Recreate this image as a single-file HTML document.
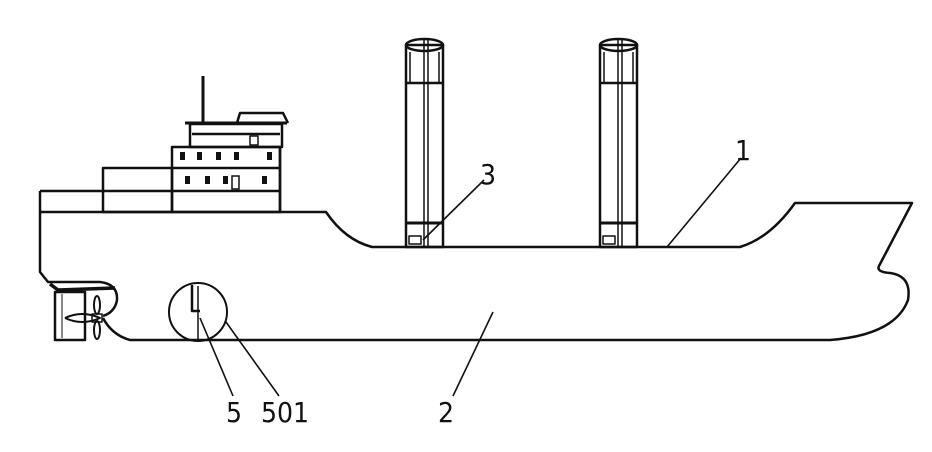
<!DOCTYPE html>
<html><head><meta charset="utf-8"><style>
html,body{margin:0;padding:0;background:#fff;}
svg{display:block;}
text{font-family:"DejaVu Sans Condensed","DejaVu Sans","Liberation Sans",sans-serif;font-size:28px;fill:#111;}
</style></head><body>
<svg width="932" height="452" viewBox="0 0 932 452" xmlns="http://www.w3.org/2000/svg">
<g fill="none" stroke="#111" stroke-width="2.5" stroke-linejoin="round">
<!-- hull -->
<path d="M40 212 L326 212 Q345 240 372 247 L740 247 Q770 238 795 203 L912 203 L879 266 Q876 272 890 273 Q912 276 908 300 Q895 335 830 340 L130 340 Q112 335 103 318" stroke-width="2.5"/>
<path d="M40 212 L40 272 L48 282 L100 282 Q118 284 117 300 Q115 312 103 316"/>
<!-- stern details -->
<path d="M50 284 L58 290 L115 288" stroke-width="3.5"/>
<rect x="55" y="292" width="30" height="48"/>
<line x1="62" y1="294" x2="62" y2="338" stroke-width="1"/>
<path d="M65 318 Q82 310 100 318 Q82 326 65 318" stroke-width="2"/>
<ellipse cx="97" cy="305" rx="3" ry="9" stroke-width="2"/>
<ellipse cx="97" cy="330" rx="3" ry="9" stroke-width="2"/>
<rect x="92" y="314" width="10" height="8" stroke-width="1.5"/>
<!-- superstructure -->
<line x1="40" y1="191" x2="280" y2="191"/>
<line x1="40" y1="191" x2="40" y2="212"/>
<rect x="103" y="168" width="69" height="44"/>
<rect x="172" y="147" width="108" height="65"/>
<line x1="172" y1="168" x2="280" y2="168"/>
<line x1="280" y1="147" x2="280" y2="212"/>
<rect x="190" y="124" width="92" height="23"/>
<line x1="185" y1="123" x2="287" y2="123" stroke-width="3"/>
<line x1="192" y1="134" x2="280" y2="134"/>
<path d="M237 123 L240 113 L283 113 L288 123"/>
<rect x="250" y="136" width="8" height="9" stroke-width="1.5"/>
<line x1="203" y1="76" x2="203" y2="123" stroke-width="3"/>
<!-- masts -->
<g id="m">
<rect x="406" y="45" width="37" height="202"/>
<ellipse cx="424.5" cy="45" rx="18.5" ry="6"/>
<line x1="406" y1="83" x2="443" y2="83"/>
<line x1="406" y1="223" x2="443" y2="223" stroke-width="3"/>
<line x1="424" y1="40" x2="424" y2="247" stroke-width="1.5"/>
<line x1="428" y1="40" x2="428" y2="247" stroke-width="1.5"/>
<line x1="410" y1="52" x2="410" y2="83" stroke-width="1.5"/>
<line x1="439" y1="52" x2="439" y2="83" stroke-width="1.5"/>
<rect x="409" y="236" width="12" height="8" stroke-width="1.5"/>
</g>
<use href="#m" transform="translate(194 0)"/>
<!-- detail circle -->
<circle cx="198" cy="312" r="29" stroke-width="2"/>
<path d="M192 285 L192 311 L200 311" stroke-width="2.5"/>
<line x1="198" y1="286" x2="198" y2="339" stroke-width="1.5"/>
<!-- leaders -->
<g stroke-width="1.6">
<line x1="741" y1="158" x2="667" y2="247"/>
<line x1="484" y1="180" x2="423" y2="240"/>
<line x1="493" y1="312" x2="453" y2="396"/>
<line x1="200" y1="318" x2="233" y2="396"/>
<line x1="226" y1="322" x2="279" y2="396"/>
</g>
</g>
<g fill="#111">
<rect x="180" y="152" width="5" height="8"/><rect x="197" y="152" width="5" height="8"/><rect x="216" y="152" width="5" height="8"/><rect x="234" y="152" width="5" height="8"/><rect x="267" y="152" width="5" height="8"/>
<rect x="185" y="176" width="5" height="8"/><rect x="205" y="176" width="5" height="8"/><rect x="223" y="176" width="5" height="8"/><rect x="262" y="176" width="5" height="8"/>
</g>
<rect x="232" y="176" width="7" height="13" fill="none" stroke="#111" stroke-width="1.5"/>
<text x="735" y="160">1</text>
<text x="480" y="184">3</text>
<text x="438" y="422">2</text>
<text x="226" y="422">5</text>
<text x="261" y="422">501</text>
</svg>
</body></html>
